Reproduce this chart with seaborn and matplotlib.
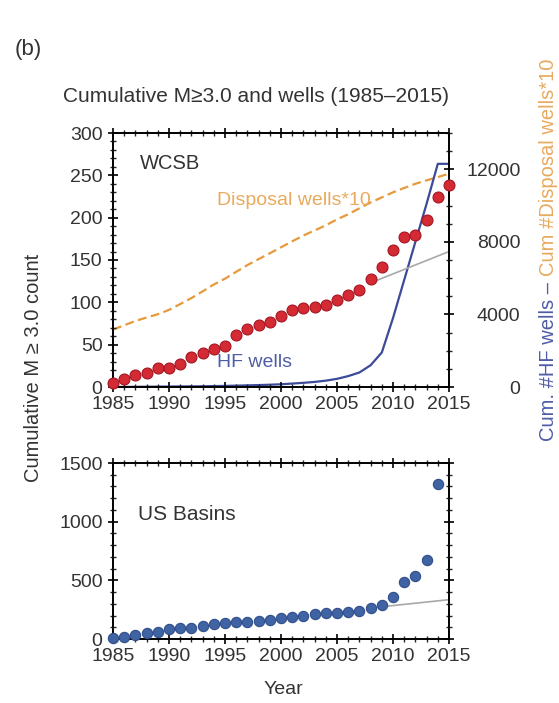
import numpy as np
import pandas as pd
import matplotlib
matplotlib.use("Agg")
import matplotlib.pyplot as plt
from matplotlib.ticker import MultipleLocator
import seaborn as sns

# ---------------- data ----------------
years_wcsb = list(range(1985, 2016))
wcsb_cum = [5, 10, 14, 17, 22, 23, 27, 35, 40, 45, 48, 62, 68, 73, 77, 84,
            91, 93, 95, 97, 103, 109, 114, 127, 142, 162, 177, 180, 197, 224, 239]

years_wells = list(range(1985, 2016))
disposal_x10 = [3170, 3400, 3640, 3830, 4010, 4250, 4570, 4900, 5270, 5650, 5970,
                6350, 6720, 7050, 7370, 7700, 8030, 8350, 8630, 8910, 9240,
                9520, 9850, 10170, 10450, 10730, 10970, 11200, 11390, 11570, 11760]
hf_wells = [0, 5, 10, 15, 20, 25, 30, 35, 40, 50, 60, 75, 90, 105, 125, 150,
            190, 230, 280, 350, 450, 600, 800, 1200, 1900, 3800, 5900, 8000,
            10100, 12300, 12300]

trend_wcsb_years = [2008, 2015]
trend_wcsb_vals = [123, 160]

years_us = list(range(1985, 2015))
us_cum = [6, 20, 34, 48, 57, 83, 91, 97, 114, 128, 134, 145, 148, 154, 162, 177,
          190, 196, 211, 219, 225, 233, 242, 262, 290, 361, 489, 541, 675, 1324]
trend_us_years = [2009, 2015]
trend_us_vals = [275, 335]

xticks = [1985, 1990, 1995, 2000, 2005, 2010, 2015]

# ---------------- style ----------------
sns.set_style("ticks")
plt.rcParams['font.family'] = ['Liberation Sans', 'DejaVu Sans']
plt.rcParams['axes.linewidth'] = 1.4

RED = "#d42a34"
RED_EDGE = "#a51522"
BLUE_DOT = "#3f63a3"
NAVY = "#3c4a98"
ORANGE = "#e69a3c"
GRAY = "#a8a8a8"
TXT = "#333333"

W, H = 559, 703
fig = plt.figure(figsize=(W / 100, H / 100), dpi=100)

def fx(px):
    return px / W

def fy(py):
    return 1 - py / H

ax1 = fig.add_axes([fx(113), fy(387), fx(449) - fx(113), fy(133) - fy(387)])
ax3 = fig.add_axes([fx(113), fy(639), fx(449) - fx(113), fy(463) - fy(639)])
ax2 = ax1.twinx()

df_w = pd.DataFrame({"year": years_wcsb, "cum": wcsb_cum})
df_wells = pd.DataFrame({"year": years_wells, "disp": disposal_x10, "hf": hf_wells})
df_us = pd.DataFrame({"year": years_us, "cum": us_cum})

# right axis lines (drawn under the dots)
ax2.set_zorder(0)
ax1.set_zorder(1)
ax1.patch.set_visible(False)
sns.lineplot(data=df_wells, x="year", y="disp", ax=ax2, color=ORANGE,
             linewidth=1.6, linestyle=(0, (4, 2)))
sns.lineplot(data=df_wells, x="year", y="hf", ax=ax2, color=NAVY, linewidth=1.6)

sns.lineplot(x=trend_wcsb_years, y=trend_wcsb_vals, ax=ax1, color=GRAY, linewidth=1.2)
sns.scatterplot(data=df_w, x="year", y="cum", ax=ax1, color=RED, edgecolor=RED_EDGE,
                linewidth=0.8, s=62, zorder=5, clip_on=False)

sns.lineplot(x=trend_us_years, y=trend_us_vals, ax=ax3, color=GRAY, linewidth=1.2)
sns.scatterplot(data=df_us, x="year", y="cum", ax=ax3, color=BLUE_DOT, edgecolor="#2f4f8c",
                linewidth=0.8, s=55, zorder=5, clip_on=False)

# axes limits / ticks
for ax in (ax1, ax3):
    ax.set_xlim(1985, 2015)
    ax.set_xticks(xticks)
    ax.xaxis.set_minor_locator(MultipleLocator(1))
    ax.set_xlabel("")
    ax.set_ylabel("")
    for s in ax.spines.values():
        s.set_visible(True)
        s.set_color("black")

ax1.set_ylim(0, 300)
ax1.set_yticks([0, 50, 100, 150, 200, 250, 300])
ax1.yaxis.set_minor_locator(MultipleLocator(10))
ax3.set_ylim(0, 1500)
ax3.set_yticks([0, 500, 1000, 1500])
ax3.yaxis.set_minor_locator(MultipleLocator(100))

ax2.set_ylim(0, 14000)
ax2.set_yticks([0, 4000, 8000, 12000])
ax2.yaxis.set_minor_locator(MultipleLocator(1000))
ax2.set_ylabel("")
for s in ax2.spines.values():
    s.set_visible(False)

TS = 14
ax1.tick_params(axis="both", which="major", direction="inout", length=7, width=1.2,
                labelsize=TS, colors="black", labelcolor=TXT, top=True, right=False)
ax1.tick_params(axis="both", which="minor", direction="inout", length=4, width=1.0,
                top=True, right=False)
ax1.tick_params(axis="x", pad=3)
ax1.tick_params(axis="y", pad=4)
ax3.tick_params(axis="both", which="major", direction="inout", length=7, width=1.2,
                labelsize=TS, colors="black", labelcolor=TXT, top=True, right=True)
ax3.tick_params(axis="both", which="minor", direction="inout", length=4, width=1.0,
                top=True, right=True)
ax3.tick_params(axis="x", pad=3)
ax3.tick_params(axis="y", pad=4)
ax2.tick_params(axis="y", which="major", direction="inout", length=7, width=1.2,
                labelsize=TS, colors="black", labelcolor=TXT, pad=48)
ax2.tick_params(axis="y", which="minor", direction="inout", length=4, width=1.0)
for lab in ax2.get_yticklabels():
    lab.set_horizontalalignment("right")

# in-panel texts
ax1.text(0.08, 0.88, "WCSB", transform=ax1.transAxes, fontsize=14.5, color=TXT,
         ha="left", va="center")
ax1.text(0.31, 0.735, "Disposal wells*10", transform=ax1.transAxes, fontsize=14,
         color="#e8aa5e", ha="left", va="center")
ax1.text(0.31, 0.095, "HF wells", transform=ax1.transAxes, fontsize=14,
         color="#4f5ca6", ha="left", va="center")
ax3.text(0.075, 0.705, "US Basins", transform=ax3.transAxes, fontsize=15, color=TXT,
         ha="left", va="center")

# figure texts
fig.text(fx(15), fy(50), "(b)", fontsize=16, color=TXT, ha="left", va="center")
fig.text(fx(256), fy(97), "Cumulative M\u22653.0 and wells (1985\u20132015)", fontsize=15,
         color=TXT, ha="center", va="center")
fig.text(fx(34), fy(368), "Cumulative M \u2265 3.0 count", fontsize=14.5, color=TXT,
         rotation=90, ha="center", va="center")
fig.text(fx(283), fy(690), "Year", fontsize=14, color=TXT, ha="center", va="center")

t1 = fig.text(fx(548), fy(441), "Cum. #HF wells \u2013 ", fontsize=14.5, color="#4f5ca6",
              rotation=90, ha="center", va="bottom")
fig.canvas.draw()
bb = t1.get_window_extent(renderer=fig.canvas.get_renderer())
top_frac = bb.y1 / fig.bbox.height
fig.text(fx(548), top_frac, "Cum #Disposal wells*10", fontsize=14.5, color="#e8aa5e",
         rotation=90, ha="center", va="bottom")

fig.savefig("out.png", dpi=100)
